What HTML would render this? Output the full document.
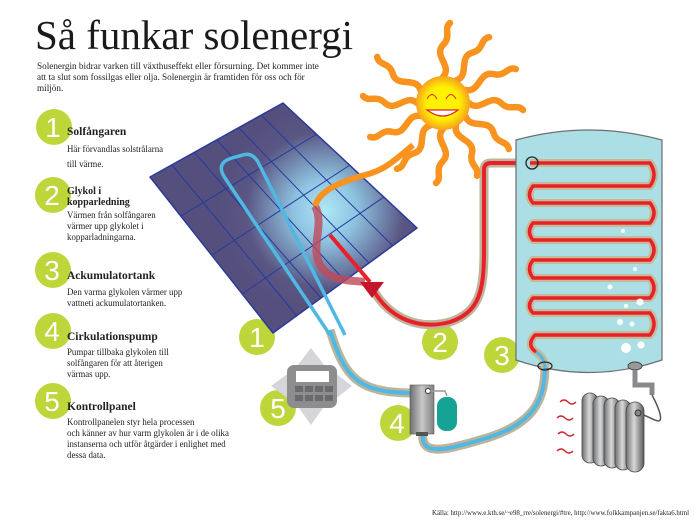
<!DOCTYPE html>
<html><head><meta charset="utf-8"><style>
body{margin:0;width:700px;height:524px;overflow:hidden;background:#fff;font-family:"Liberation Serif",serif;color:#222;position:relative}
.t{position:absolute;white-space:nowrap}
h1{position:absolute;left:35px;top:12px;margin:0;font-weight:normal;font-size:41px;line-height:46px;color:#1a1a1a}
.intro{left:37px;top:61px;font-size:9.2px;line-height:11.2px}
.h{font-weight:bold;font-size:11.5px}
.b{font-size:8.9px;line-height:11px}
</style></head><body>
<svg width="700" height="524" style="position:absolute;left:0;top:0">
<defs>
<radialGradient id="glow" cx="325" cy="210" r="105" gradientUnits="userSpaceOnUse">
<stop offset="0" stop-color="#aee8f8"/><stop offset="0.3" stop-color="#8ec3e0"/><stop offset="0.75" stop-color="#5a5683"/><stop offset="1" stop-color="#554f7e"/></radialGradient>
<radialGradient id="sunf" cx="0.5" cy="0.5" r="0.5"><stop offset="0.6" stop-color="#fff200"/><stop offset="1" stop-color="#f7a21e"/></radialGradient>
<linearGradient id="rad" x1="0" x2="1"><stop offset="0" stop-color="#6d6e71"/><stop offset="0.45" stop-color="#d8d8d8"/><stop offset="1" stop-color="#58595b"/></linearGradient>
<linearGradient id="pump" x1="0" x2="1"><stop offset="0" stop-color="#707072"/><stop offset="0.5" stop-color="#c8c8c8"/><stop offset="1" stop-color="#808082"/></linearGradient>
<clipPath id="pc"><path d="M150,177 L283,103 L417,228 L273,333 Z"/></clipPath>
</defs>
<g fill="#bed63a">
<circle cx="54" cy="127" r="18"/><circle cx="53" cy="195" r="18"/><circle cx="53" cy="270" r="18"/><circle cx="53" cy="331" r="18"/><circle cx="53" cy="401" r="18"/>
<circle cx="257" cy="337" r="18"/><circle cx="440" cy="342" r="18"/><circle cx="502" cy="355" r="18"/><circle cx="398" cy="423" r="18"/><circle cx="278" cy="408" r="18"/>
</g>
<g fill="#fff" font-family="Liberation Sans,sans-serif" font-size="28" text-anchor="middle">
<text x="53" y="137">1</text><text x="52" y="205">2</text><text x="52" y="280">3</text><text x="52" y="341">4</text><text x="52" y="411">5</text>
<text x="257" y="347">1</text><text x="440" y="352">2</text><text x="502" y="365">3</text><text x="397" y="433">4</text><text x="278" y="418">5</text>
</g>
<path d="M330,330 C345,380 360,392 410,393" fill="none" stroke="#bfb39a" stroke-width="9"/>
<path d="M330,330 C345,380 360,392 410,393" fill="none" stroke="#4fb8e3" stroke-width="4"/>
<path d="M423,432 C420,455 440,452 480,440 C535,425 545,400 545,365" fill="none" stroke="#bfb39a" stroke-width="9"/>
<path d="M423,432 C420,455 440,452 480,440 C535,425 545,400 545,365" fill="none" stroke="#4fb8e3" stroke-width="4"/>
<path d="M372,288 C390,320 420,330 450,322 C480,312 484,290 484,250 L484,170 Q484,163 491,163 L520,163" fill="none" stroke="#bfb39a" stroke-width="9"/>
<path d="M372,288 C390,320 420,330 450,322 C480,312 484,290 484,250 L484,170 Q484,163 491,163 L520,163" fill="none" stroke="#e8202a" stroke-width="4"/>
<path d="M150,177 L283,103 L417,228 L273,333 Z" fill="url(#glow)" stroke="#2b3a9a" stroke-width="1.5" stroke-linejoin="round"/>
<g clip-path="url(#pc)" stroke="#243aa0" stroke-width="1" fill="none">
<path d="M172,165 L297,316 M194,152 L321,298 M217,140 L345,281 M239,128 L369,263 M261,115 L393,246"/>
<path d="M181,216 L317,134 M212,255 L350,165 M242,294 L384,197"/>
</g>
<path d="M330,335 L225,178 Q215,163 232,158 L243,155 Q252,152 258,162 L345,335" fill="none" stroke="#4fb8e3" stroke-width="3.5"/>
<path d="M315,206 C325,225 310,245 320,265 C330,282 350,280 365,282" fill="none" stroke="#c0485a" stroke-width="8" opacity="0.8"/>
<path d="M330,235 L370,282" stroke="#e8202a" stroke-width="4"/>
<path d="M360,282 L384,282 L372,298 Z" fill="#c4162a"/>
<g transform="translate(443,103)" fill="none" stroke="#f7931e" stroke-width="6.5" stroke-linecap="round">
<g id="ray"><path d="M0,-26 C10,-37 -10,-47 0,-58 C9,-67 0,-74 7,-80"/></g>
<use href="#ray" transform="rotate(30)"/><use href="#ray" transform="rotate(60)"/><use href="#ray" transform="rotate(90)"/><use href="#ray" transform="rotate(120)"/><use href="#ray" transform="rotate(150)"/><use href="#ray" transform="rotate(180)"/><use href="#ray" transform="rotate(210)"/><use href="#ray" transform="rotate(240)"/><use href="#ray" transform="rotate(270)"/><use href="#ray" transform="rotate(300)"/>
</g>
<path d="M413,145 C395,160 385,170 365,175 C340,182 320,190 315,206" fill="none" stroke="#f7931e" stroke-width="6"/>
<circle cx="443" cy="103" r="27" fill="url(#sunf)"/>
<path d="M427,99 q5,-9 10,0 M446,99 q5,-9 10,0" fill="none" stroke="#e8202a" stroke-width="1"/>
<path d="M427,110 q16,12 31,0 z" fill="#fff" stroke="#e8202a" stroke-width="1.2"/>
<path d="M516,140 Q589,120 662,140 L662,360 Q589,385 516,360 Z" fill="#abdfe5" stroke="#6d6e71" stroke-width="1.2"/>
<path d="M530,163 L650,163 Q658,175 650,186 L533,186 Q526,195 533,203 L650,203 Q658,213 650,223 L533,223 Q526,232 533,240 L650,240 Q658,250 650,260 L533,260 Q526,269 533,278 L650,278 Q658,288 650,298 L533,298 Q526,306 533,313 L650,313 Q658,324 650,335 L535,335 Q526,345 536,352 Q545,358 545,368" fill="none" stroke="#c7b896" stroke-width="8" stroke-linejoin="round"/>
<path d="M530,163 L650,163 Q658,175 650,186 L533,186 Q526,195 533,203 L650,203 Q658,213 650,223 L533,223 Q526,232 533,240 L650,240 Q658,250 650,260 L533,260 Q526,269 533,278 L650,278 Q658,288 650,298 L533,298 Q526,306 533,313 L650,313 Q658,324 650,335 L535,335 Q526,345 536,352" fill="none" stroke="#e8202a" stroke-width="3.5" stroke-linejoin="round"/>
<path d="M536,352 Q545,358 545,368" fill="none" stroke="#4fb8e3" stroke-width="3"/>
<circle cx="532" cy="163" r="6" fill="none" stroke="#222" stroke-width="1.3"/>
<ellipse cx="545" cy="366" rx="7" ry="4" fill="none" stroke="#222" stroke-width="1.2"/>
<ellipse cx="635" cy="366" rx="7" ry="4" fill="#999" stroke="#444" stroke-width="1"/>
<g fill="#fff"><circle cx="623" cy="231" r="2"/><circle cx="635" cy="269" r="2"/><circle cx="610" cy="287" r="2.5"/><circle cx="626" cy="306" r="2"/><circle cx="640" cy="302" r="3.5"/><circle cx="620" cy="322" r="3"/><circle cx="632" cy="324" r="2.5"/><circle cx="626" cy="348" r="5"/><circle cx="641" cy="345" r="3.5"/></g>
<path d="M635,370 L635,385 L652,385 L652,395" fill="none" stroke="#8a8a8c" stroke-width="5"/>
<path d="M652,395 C660,410 665,425 655,420 C650,418 645,415 640,414" fill="none" stroke="#555" stroke-width="1.5"/>
<g stroke="#444" stroke-width="0.8" fill="url(#rad)">
<rect x="582" y="393" width="16" height="70" rx="8"/><rect x="593" y="396" width="16" height="70" rx="8"/><rect x="604" y="398" width="16" height="70" rx="8"/><rect x="615" y="400" width="16" height="70" rx="8"/><rect x="626" y="402" width="18" height="70" rx="9"/>
</g>
<circle cx="638" cy="413" r="3" fill="#888" stroke="#333"/>
<g fill="none" stroke="#d0262e" stroke-width="1.3">
<path d="M560,402 q4,-4 8,0 t8,0"/><path d="M557,418 q4,-4 8,0 t8,0"/><path d="M558,434 q4,-4 8,0 t8,0"/><path d="M557,451 q4,-4 8,0 t8,0"/>
</g>
<rect x="410" y="385" width="24" height="49" fill="url(#pump)" stroke="#555" stroke-width="0.6"/>
<rect x="416" y="432" width="12" height="4" fill="#555"/>
<circle cx="428" cy="391" r="2.5" fill="#fff" stroke="#333"/>
<path d="M430,391 L445,391 L447,396" fill="none" stroke="#999" stroke-width="1.5"/>
<rect x="437" y="397" width="20" height="34" rx="9" fill="#14a394"/>
<g fill="#d6d6da">
<path d="M311,348 L325,366 L297,366 Z"/><path d="M311,425 L325,405 L297,405 Z"/><path d="M271,386 L290,372 L290,400 Z"/><path d="M352,386 L334,372 L334,400 Z"/>
</g>
<rect x="287" y="365" width="50" height="43" rx="7" fill="#8d8d90"/>
<rect x="296" y="371" width="33" height="11" fill="#fff"/>
<g fill="#6a6a6d"><rect x="295" y="386" width="8" height="6"/><rect x="305" y="386" width="8" height="6"/><rect x="315" y="386" width="8" height="6"/><rect x="325" y="386" width="8" height="6"/><rect x="295" y="395" width="8" height="6"/><rect x="305" y="395" width="8" height="6"/><rect x="315" y="395" width="8" height="6"/><rect x="325" y="395" width="8" height="6"/></g>
</svg>
<h1>Så funkar solenergi</h1>
<div class="t intro">Solenergin bidrar varken till växthuseffekt eller försurning. Det kommer inte<br>att ta slut som fossilgas eller olja. Solenergin är framtiden för oss och för<br>miljön.</div>
<div class="t h" style="left:67px;top:126px">Solfångaren</div>
<div class="t b" style="left:67px;top:142px;line-height:15px">Här förvandlas solstrålarna<br>till värme.</div>
<div class="t h" style="left:67px;top:186px;font-size:10px;line-height:11px">Glykol i<br>kopparledning</div>
<div class="t b" style="left:67px;top:210px">Värmen från solfångaren<br>värmer upp glykolet i<br>kopparladningarna.</div>
<div class="t h" style="left:67px;top:270px">Ackumulatortank</div>
<div class="t b" style="left:67px;top:287px">Den varma glykolen värmer upp<br>vattneti ackumulatortanken.</div>
<div class="t h" style="left:67px;top:331px">Cirkulationspump</div>
<div class="t b" style="left:67px;top:347px">Pumpar tillbaka glykolen till<br>solfångaren för att återigen<br>värmas upp.</div>
<div class="t h" style="left:67px;top:401px">Kontrollpanel</div>
<div class="t b" style="left:67px;top:417px">Kontrollpanelen styr hela processen<br>och känner av hur varm glykolen är i de olika<br>instanserna och utför åtgärder i enlighet med<br>dessa data.</div>
<div class="t" style="left:432px;top:510px;font-size:6.9px">Källa: http://www.e.kth.se/~e98_rre/solenergi/#tre, http://www.folkkampanjen.se/fakta6.html</div>
</body></html>
